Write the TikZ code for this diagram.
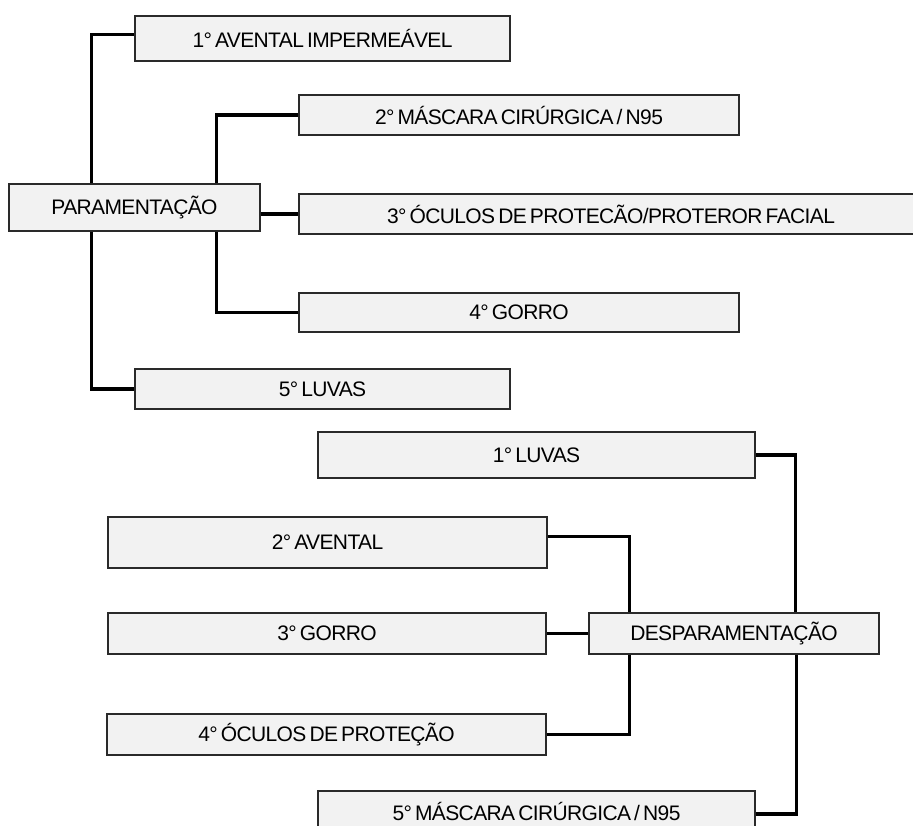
\documentclass[tikz,border=0pt]{standalone}
\usepackage{fontspec}
\setmainfont{Liberation Sans}[LetterSpace=-3, WordSpace=0.6]
\definecolor{boxgray}{HTML}{F2F2F2}
\definecolor{edgegray}{HTML}{2A2A2A}
\begin{document}
\begin{tikzpicture}[
    x=1pt, y=-1pt,
    etapa/.style={rectangle, draw=edgegray, line width=1.5pt, fill=boxgray, inner sep=0pt, align=center, font=\fontsize{21}{24}\selectfont},
    linha/.style={line width=3.4pt, black}
]
    \clip (0,0) rectangle (913,825);
    \node[etapa, minimum width=251pt, minimum height=47pt] (param) at (134.5,207.5) {PARAMENTAÇÃO};
    \node[etapa, minimum width=375pt, minimum height=45pt] (ap1) at (322.5,38.5) {1° AVENTAL IMPERMEÁVEL};
    \node[etapa, minimum width=440pt, minimum height=40pt] (ap2) at (519,115) {2° MÁSCARA CIRÚRGICA / N95};
    \node[etapa, minimum width=624pt, minimum height=40pt] (ap3) at (611,214) {3° ÓCULOS DE PROTECÃO/PROTEROR FACIAL};
    \node[etapa, minimum width=440pt, minimum height=39pt] (ap4) at (519,312.5) {4° GORRO};
    \node[etapa, minimum width=375pt, minimum height=40pt] (ap5) at (322.5,389) {5° LUVAS};

    \node[etapa, minimum width=290pt, minimum height=41pt] (desp) at (734,633.5) {DESPARAMENTAÇÃO};
    \node[etapa, minimum width=437pt, minimum height=46pt] (dp1) at (536.5,455) {1° LUVAS};
    \node[etapa, minimum width=439pt, minimum height=51pt] (dp2) at (327.5,542.5) {2° AVENTAL};
    \node[etapa, minimum width=438pt, minimum height=41pt] (dp3) at (327,633.5) {3° GORRO};
    \node[etapa, minimum width=439pt, minimum height=41pt] (dp4) at (326.5,734.5) {4° ÓCULOS DE PROTEÇÃO};
    \node[etapa, minimum width=437pt, minimum height=40pt] (dp5) at (536.5,811) {5° MÁSCARA CIRÚRGICA / N95};

    \draw[linha] ([xshift=83pt]param.north west) |- ([yshift=4pt]ap1.west);
    \draw[linha] ([xshift=208pt]param.north west) |- (ap2.west);
    \draw[linha] (param.east |- ap3.west) -- (ap3.west);
    \draw[linha] ([xshift=208pt]param.south west) |- (ap4.west);
    \draw[linha] ([xshift=83pt]param.south west) |- (ap5.west);

    \draw[linha] (dp1.east) -| ([xshift=207pt]desp.north west);
    \draw[linha] ([yshift=6pt]dp2.east) -| ([xshift=41pt]desp.north west);
    \draw[linha] (dp3.east) -- (desp.west);
    \draw[linha] ([xshift=41pt]desp.south west) |- (dp4.east);
    \draw[linha] ([xshift=208pt]desp.south west) |- ([yshift=-3pt]dp5.east);
\end{tikzpicture}
\end{document}
